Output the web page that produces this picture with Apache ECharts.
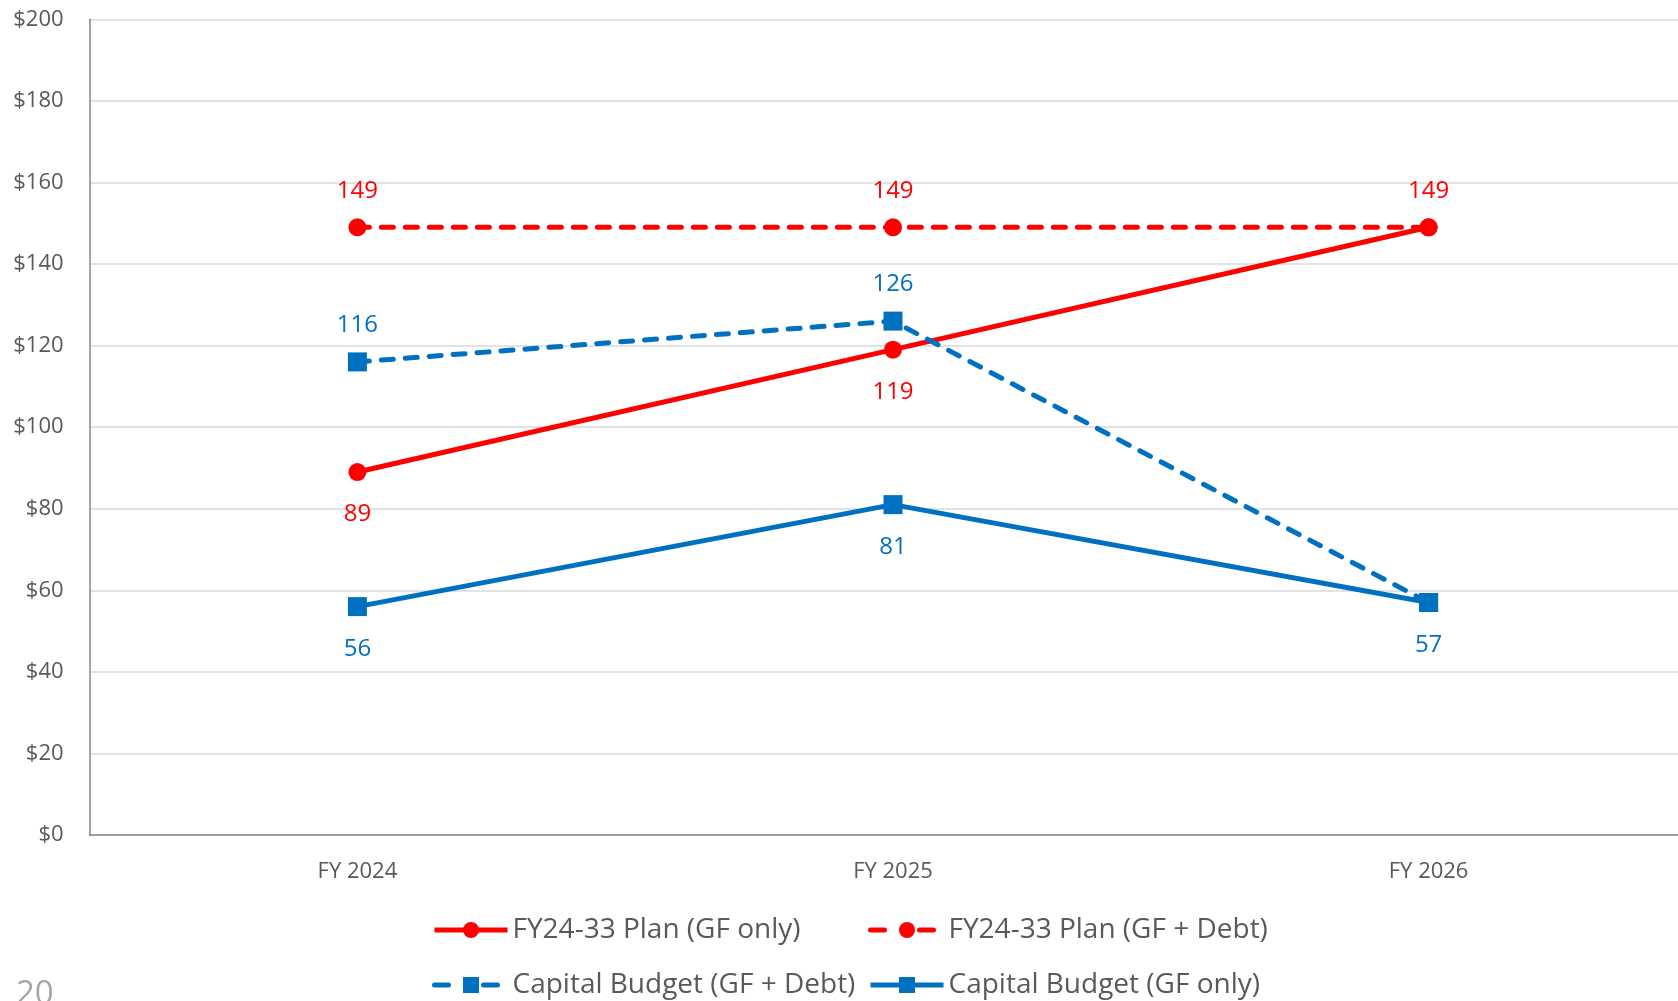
<!DOCTYPE html>
<html>
<head>
<meta charset="utf-8">
<title>FY Plan vs Capital Budget</title>
<script src="https://cdn.jsdelivr.net/npm/echarts@6/dist/echarts.min.js"></script>
<style>
  html, body { margin: 0; padding: 0; background: #fff; }
  #chart { width: 1678px; height: 1001px; }
</style>
</head>
<body>
<div id="chart"></div>
<script>
// categories + series values
const years = ['FY 2024', 'FY 2025', 'FY 2026']
const planGfOnly = [89, 119, 149]
const planGfDebt = [149, 149, 149]
const capGfDebt = [116, 126, 57]
const capGfOnly = [56, 81, 57]
const seriesNames = [
  'FY24-33 Plan (GF only)',
  'FY24-33 Plan (GF + Debt)',
  'Capital Budget (GF + Debt)',
  'Capital Budget (GF only)'
]
// labels that overlap another series and are not shown in the original
const hiddenLabels = { 0: [2], 2: [2] }

const RED = '#FF0000'
const BLUE = '#0070C0'
const FONT = 'Open Sans'
const DASH = [12, 12]
const LEGEND_DASH = [14, 35] // one dash either side of the marker

function points(values, idx) {
  const hide = hiddenLabels[idx] || []
  return values.map((v, i) => hide.includes(i) ? { value: v, label: { show: false } } : v)
}

function lineSeries(idx, values, color, dashed, symbol, labelPos) {
  return {
    name: seriesNames[idx],
    type: 'line',
    data: points(values, idx),
    symbol: symbol,
    symbolSize: symbol === 'circle' ? 18 : 19,
    lineStyle: {
      color: color,
      width: 5,
      type: dashed ? DASH : 'solid',
      cap: dashed ? 'round' : 'butt'
    },
    itemStyle: { color: color },
    label: {
      show: true,
      position: labelPos,
      distance: labelPos === 'top' ? 15 : 21,
      color: color,
      fontFamily: FONT,
      fontSize: 24
    },
    animation: false
  }
}

// one legend per item so they sit in the same two columns as the original
const legendSpots = [
  { left: 432, top: 916, dashed: false },
  { left: 868, top: 916, dashed: true },
  { left: 432, top: 971, dashed: true },
  { left: 868, top: 971, dashed: false }
]

const chart = echarts.init(document.getElementById('chart'))
chart.setOption({
  backgroundColor: '#fff',
  grid: { left: 89.6, right: -18.4, top: 19.3, bottom: 166, outerBoundsMode: 'none' },
  xAxis: {
    type: 'category',
    data: years,
    boundaryGap: true,
    axisLine: { lineStyle: { color: '#868686', width: 1.5 } },
    axisTick: { show: false },
    axisLabel: { color: '#595959', fontFamily: FONT, fontSize: 22, margin: 26 },
    splitLine: { show: false }
  },
  yAxis: {
    type: 'value',
    min: 0,
    max: 200,
    interval: 20,
    axisLine: { show: true, lineStyle: { color: '#868686', width: 1.5 } },
    axisTick: { show: false },
    axisLabel: {
      color: '#595959',
      fontFamily: FONT,
      fontSize: 22,
      margin: 26,
      formatter: v => '$' + v
    },
    splitLine: { lineStyle: { color: '#D9D9D9', width: 1.5 } }
  },
  legend: seriesNames.map((name, i) => ({
    data: [name],
    left: legendSpots[i].left,
    top: legendSpots[i].top,
    padding: 0,
    itemWidth: 73,
    itemHeight: 20,
    selectedMode: false,
    lineStyle: {
      width: 5,
      type: legendSpots[i].dashed ? LEGEND_DASH : 'solid',
      cap: legendSpots[i].dashed ? 'round' : 'butt'
    },
    textStyle: { color: '#595959', fontFamily: FONT, fontSize: 28 }
  })),
  graphic: [{
    type: 'text',
    left: 16,
    top: 978,
    style: { text: '20', fill: '#A6A6A6', font: '33px "Open Sans"' }
  }],
  series: [
    lineSeries(0, planGfOnly, RED, false, 'circle', 'bottom'),
    lineSeries(1, planGfDebt, RED, true, 'circle', 'top'),
    lineSeries(2, capGfDebt, BLUE, true, 'rect', 'top'),
    lineSeries(3, capGfOnly, BLUE, false, 'rect', 'bottom')
  ]
})
</script>
</body>
</html>
